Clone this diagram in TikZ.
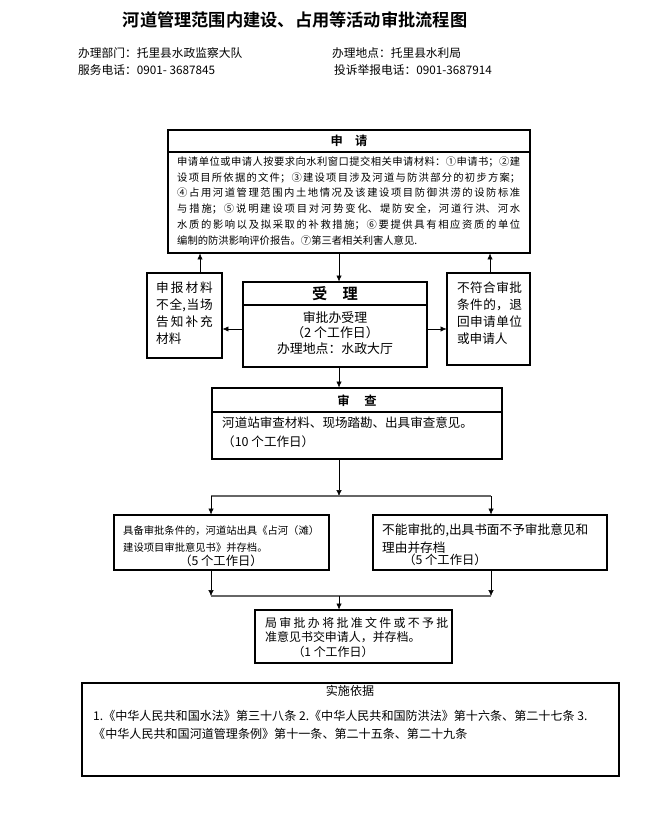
\documentclass[tikz,border=0pt]{standalone}
\usepackage{fontspec}
\setmainfont{Noto Sans CJK SC}[BoldFont={Noto Sans CJK SC Bold}]
\XeTeXlinebreaklocale "zh"
\XeTeXlinebreakskip=0pt plus 2pt
\usetikzlibrary{fit}
\usetikzlibrary{arrows.meta}

\begin{document}
\begin{tikzpicture}[x=0.03cm, y=-0.03cm, >={Latex[length=5pt,width=4.5pt]},
		box/.style={draw, line width=0.9pt, inner sep=0pt},
		txt/.style={inner sep=0pt},
		head/.style={inner sep=0pt, font=\fontsize{10.5}{12}\selectfont\bfseries},
		bar/.style={draw=black!60, line width=1.2pt}]
	\fill[white] (0,0) rectangle (670,824);
	\useasboundingbox (0,0) rectangle (670,824);

	\node[txt, font=\fontsize{14.7}{16}\selectfont\bfseries] (title) at (295,20) {河道管理范围内建设、占用等活动审批流程图};
	\node[txt, anchor=west, font=\fontsize{10}{12}\selectfont] (dept) at (78,53) {办理部门：托里县水政监察大队};
	\node[txt, anchor=west, font=\fontsize{10}{12}\selectfont] (place) at (332,53) {办理地点：托里县水利局};
	\node[txt, anchor=west, font=\fontsize{10}{12}\selectfont] (phone) at (78,70) {服务电话：0901- 3687845};
	\node[txt, anchor=west, font=\fontsize{10}{12}\selectfont] (report) at (334,70) {投诉举报电话：0901-3687914};

	% 申请
	\node[box, fit={(168,130) (530,253)}] (apply) {};
	\draw[line width=0.9pt] (168,152) -- (530,152);
	\node[head] (applyhead) at (349,141) {申\hspace{1em}请};
	\node[txt, anchor=west, text width=10.29cm, align=justify, font=\fontsize{8.8}{13.6}\selectfont] (applybody) at (177,201)
		{申请单位或申请人按要求向水利窗口提交相关申请材料：①申请书；②建\linebreak
		设项目所依据的文件；③建设项目涉及河道与防洪部分的初步方案；\linebreak
		④占用河道管理范围内土地情况及该建设项目防御洪涝的设防标准\linebreak
		与措施；⑤说明建设项目对河势变化、堤防安全，河道行洪、河水\linebreak
		水质的影响以及拟采取的补救措施；⑥要提供具有相应资质的单位\linebreak
		编制的防洪影响评价报告。⑦第三者相关利害人意见.};

	% 受理
	\node[box, fit={(243,282) (427,367)}] (accept) {};
	\draw[line width=0.9pt] (243,305) -- (427,305);
	\node[head, font=\fontsize{13}{14}\selectfont\bfseries] (accepthead) at (335,294) {受\hspace{1em}理};
	\node[txt, align=center, font=\fontsize{11}{13.2}\selectfont] (acceptbody) at (335,333)
		{审批办受理\\（2 个工作日）\\办理地点：水政大厅};

	\node[box, fit={(147,273) (222,358)}] (leftnote) {};
	\node[txt, text width=1.7cm, align=justify, font=\fontsize{10.8}{14.5}\selectfont] (leftnotetext) at (184.5,313)
		{申报材料\linebreak 不全,当场\linebreak 告知补充\linebreak 材料};
	\node[box, fit={(447,273) (530,365)}] (rightnote) {};
	\node[txt, text width=1.95cm, align=justify, font=\fontsize{10.8}{14.5}\selectfont] (rightnotetext) at (489.5,313)
		{不符合审批\linebreak 条件的，退\linebreak 回申请单位\linebreak 或申请人};

	% 审查
	\node[box, fit={(212,388) (502,459)}] (review) {};
	\draw[line width=0.9pt] (212,412) -- (502,412);
	\node[head] (reviewhead) at (357,401) {审\hspace{1.2em}查};
	\node[txt, anchor=west, align=left, font=\fontsize{10.7}{16.2}\selectfont] (reviewbody) at (222,432)
		{河道站审查材料、现场踏勘、出具审查意见。\\（10 个工作日）};

	\node[box, fit={(114,515) (329,570)}] (yes) {};
	\node[txt, anchor=west, align=left, font=\fontsize{8.8}{15.3}\selectfont] (yesbody) at (123,539)
		{具备审批条件的，河道站出具《占河（滩）\\建设项目审批意见书》并存档。};
	\node[txt, font=\fontsize{10.5}{12}\selectfont] (yesdays) at (221,561) {（5 个工作日）};
	\node[box, fit={(373,515) (607,570)}] (no) {};
	\node[txt, anchor=west, align=left, font=\fontsize{10.8}{15.3}\selectfont] (nobody) at (382,539)
		{不能审批的,出具书面不予审批意见和\\理由并存档};
	\node[txt, font=\fontsize{10.5}{12}\selectfont] (nodays) at (445,560) {（5 个工作日）};

	\node[box, fit={(255,610) (452,663)}] (final) {};
	\node[txt, anchor=west, text width=5.49cm, align=justify, font=\fontsize{10.2}{11.9}\selectfont] (finalbody) at (265,630)
		{局审批办将批准文件或不予批\linebreak 准意见书交申请人，并存档。};
	\node[txt, font=\fontsize{10.2}{12}\selectfont] (finaldays) at (333,652) {（1 个工作日）};

	% 实施依据
	\node[box, fit={(82,683) (619,776)}] (basis) {};
	\node[txt, font=\fontsize{10.3}{12}\selectfont] (basishead) at (350,691) {实施依据};
	\node[txt, anchor=west, align=left, font=\fontsize{10.3}{15.3}\selectfont] (basisbody) at (93,725)
		{1.《中华人民共和国水法》第三十八条 2.《中华人民共和国防洪法》第十六条、第二十七条 3.\\《中华人民共和国河道管理条例》第十一条、第二十五条、第二十九条};

	\coordinate (midx) at (339,0);
	\coordinate (rowy) at (0,329);
	\coordinate (upl) at (200,0);
	\coordinate (upr) at (490,0);
	\coordinate (splitl) at (211,496);
	\coordinate (split) at (339,496);
	\coordinate (splitr) at (491,496);
	\coordinate (mergel) at (211,596);
	\coordinate (merge) at (339,596);
	\coordinate (merger) at (491,596);

	\draw[->] (apply.south -| midx) -- (accept.north -| midx);
	\draw[->] (accept.west |- rowy) -- (leftnote.east |- rowy);
	\draw[->] (accept.east |- rowy) -- (rightnote.west |- rowy);
	\draw[->] (leftnote.north -| upl) -- (apply.south -| upl);
	\draw[->] (rightnote.north -| upr) -- (apply.south -| upr);
	\draw[->] (accept.south -| midx) -- (review.north -| midx);
	\draw[->] (review.south -| midx) -- (split);
	\draw[bar] (splitl) -- (splitr);
	\draw[->] (splitl) -- (yes.north -| splitl);
	\draw[->] (splitr) -- (no.north -| splitr);
	\draw[->] (yes.south -| mergel) -- (mergel);
	\draw[->] (no.south -| merger) -- (merger);
	\draw[bar] (mergel) -- (merger);
	\draw[->] (merge) -- (final.north -| merge);
\end{tikzpicture}
\end{document}
